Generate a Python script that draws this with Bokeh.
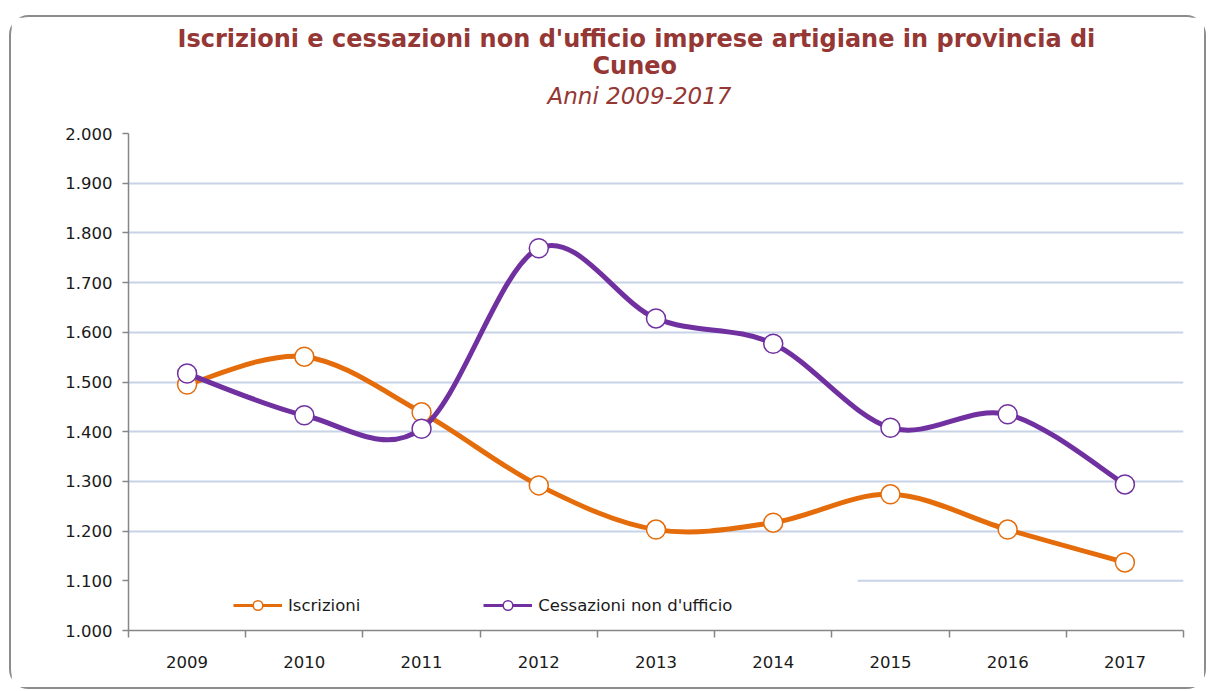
from bokeh.plotting import figure
from bokeh.models import (FixedTicker, Legend, LegendItem, Range1d, Title,
                          ColumnDataSource)
from bokeh.embed import file_html
from bokeh.resources import INLINE

# ---------------- data ----------------
YEARS = ["2009", "2010", "2011", "2012", "2013", "2014", "2015", "2016", "2017"]
ISCRIZIONI = [1495, 1551, 1439, 1292, 1203, 1217, 1274, 1203, 1137]
CESSAZIONI = [1517, 1433, 1406, 1769, 1628, 1577, 1408, 1435, 1294]
SERIES_NAMES = ["Iscrizioni", "Cessazioni non d'ufficio"]
Y_TICKS = [1000, 1100, 1200, 1300, 1400, 1500, 1600, 1700, 1800, 1900, 2000]
Y_TICK_LABELS = ["1.000", "1.100", "1.200", "1.300", "1.400", "1.500",
                 "1.600", "1.700", "1.800", "1.900", "2.000"]
TITLE_LINE1 = "Iscrizioni e cessazioni non d'ufficio imprese artigiane in provincia di"
TITLE_LINE2 = "Cuneo"
SUBTITLE = "Anni 2009-2017"

# ---------------- style ----------------
FONT = "DejaVu Sans"
ORANGE = "#E46C0A"
PURPLE = "#7030A0"
TITLE_COLOR = "#953735"
AXIS_COLOR = "#868686"
GRID_COLOR = "#C8D3E7"
TEXT_COLOR = "#1A1A1A"
NAN = float("nan")

xs = list(range(len(YEARS)))


def smooth_source(x, y):
    """Catmull-Rom style Bezier control points (Excel-like smoothing)."""
    n = len(x)
    d = dict(x0=[], y0=[], x1=[], y1=[], cx0=[], cy0=[], cx1=[], cy1=[])
    for i in range(n - 1):
        im = max(i - 1, 0)
        ip2 = min(i + 2, n - 1)
        d["x0"].append(x[i]); d["y0"].append(y[i])
        d["x1"].append(x[i + 1]); d["y1"].append(y[i + 1])
        d["cx0"].append(x[i] + (x[i + 1] - x[im]) / 6.0)
        d["cy0"].append(y[i] + (y[i + 1] - y[im]) / 6.0)
        d["cx1"].append(x[i + 1] - (x[ip2] - x[i]) / 6.0)
        d["cy1"].append(y[i + 1] - (y[ip2] - y[i]) / 6.0)
    return ColumnDataSource(d)


W, H = 1197, 674
p = figure(width=W, height=H, output_backend="svg", toolbar_location=None,
           x_range=Range1d(-0.5, len(YEARS) - 0.5),
           y_range=Range1d(Y_TICKS[0], Y_TICKS[-1]),
           min_border_left=117, min_border_right=25,
           min_border_top=116, min_border_bottom=61)
p.title.visible = False
p.outline_line_color = None
p.background_fill_color = "white"
p.border_fill_color = "white"
p.styles = {"border": "2px solid #8C8C8C", "border-radius": "20px",
            "margin-left": "9px", "margin-top": "15px"}

# axes
p.xaxis.ticker = FixedTicker(ticks=xs, minor_ticks=[v - 0.5 for v in range(len(YEARS) + 1)])
p.xaxis.major_label_overrides = {i: yr for i, yr in enumerate(YEARS)}
p.xaxis.major_tick_out = 0
p.xaxis.major_tick_in = 0
p.xaxis.minor_tick_out = 7
p.xaxis.minor_tick_in = 0
p.xaxis.minor_tick_line_color = AXIS_COLOR
p.xaxis.minor_tick_line_width = 1.5
p.xaxis.major_label_standoff = 18

p.yaxis.ticker = FixedTicker(ticks=Y_TICKS)
p.yaxis.major_label_overrides = {t: l for t, l in zip(Y_TICKS, Y_TICK_LABELS)}
p.yaxis.major_tick_out = 6
p.yaxis.major_tick_in = 0
p.yaxis.minor_tick_line_color = None
p.yaxis.major_label_standoff = 10

for ax in (p.xaxis, p.yaxis):
    ax.axis_line_color = AXIS_COLOR
    ax.axis_line_width = 1.5
    ax.major_tick_line_color = AXIS_COLOR
    ax.major_tick_line_width = 1.5
    ax.major_label_text_font = FONT
    ax.major_label_text_font_size = "16.5px"
    ax.major_label_text_color = TEXT_COLOR

p.xgrid.visible = False
p.ygrid.ticker = FixedTicker(ticks=Y_TICKS[2:])
p.ygrid.grid_line_color = GRID_COLOR
p.ygrid.grid_line_width = 2

# gridline at 1.100 is hidden behind the legend on the left part
LEGEND_RIGHT_X = 5.72
p.segment(x0=[LEGEND_RIGHT_X], y0=[Y_TICKS[1]], x1=[len(YEARS) - 0.5], y1=[Y_TICKS[1]],
          line_color=GRID_COLOR, line_width=2, level="underlay")

# series
items = []
for vals, col, name in ((ISCRIZIONI, ORANGE, SERIES_NAMES[0]),
                        (CESSAZIONI, PURPLE, SERIES_NAMES[1])):
    p.bezier(x0="x0", y0="y0", x1="x1", y1="y1", cx0="cx0", cy0="cy0",
             cx1="cx1", cy1="cy1", source=smooth_source(xs, vals),
             line_color=col, line_width=5, line_cap="round")
    sc = p.scatter(x=xs, y=vals, size=19, marker="circle", fill_color="white",
                   line_color=col, line_width=1.5)
    proxy = p.line(x=[NAN], y=[NAN], line_color=col, line_width=3)
    items.append(LegendItem(label=name, renderers=[proxy, sc]))

legend = Legend(items=items, orientation="horizontal", location=(105, 13),
                padding=0, margin=0, spacing=123, glyph_width=49, glyph_height=24,
                label_standoff=6, label_text_font=FONT, label_text_font_size="16.5px",
                label_text_color=TEXT_COLOR, border_line_alpha=0,
                background_fill_alpha=0)
p.add_layout(legend)

# titles (first added sits closest to the plot); a blank spacer first
p.add_layout(Title(text=" ", standoff=21, text_font=FONT, text_font_size="1px"), "above")
p.add_layout(Title(text=SUBTITLE, align="left", offset=419, standoff=2,
                   text_font=FONT, text_font_size="23px", text_font_style="italic",
                   text_color=TITLE_COLOR), "above")
p.add_layout(Title(text=TITLE_LINE2, align="left", offset=464, standoff=0,
                   text_font=FONT, text_font_size="24px", text_font_style="bold",
                   text_color=TITLE_COLOR), "above")
p.add_layout(Title(text=TITLE_LINE1, align="left", offset=49, standoff=-6,
                   text_font=FONT, text_font_size="24px", text_font_style="bold",
                   text_color=TITLE_COLOR), "above")

open("out.html", "w").write(file_html(p, INLINE))
